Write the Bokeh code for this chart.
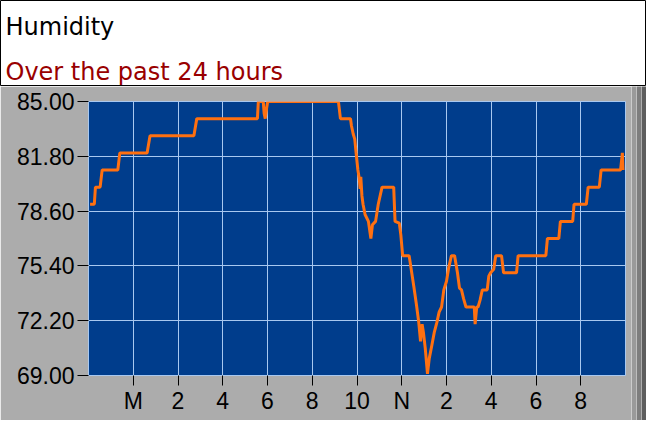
from bokeh.plotting import figure
from bokeh.layouts import column, row
from bokeh.models import Range1d, FixedTicker, PrintfTickFormatter, ColumnDataSource
from bokeh.core.properties import value
from bokeh.embed import file_html
from bokeh.resources import INLINE

# ---- data (hours relative to midnight, humidity %) ----
hours = [-1.93, -1.74, -1.69, -1.48, -1.39, -0.69, -0.60, 0.62, 0.75, 2.71, 2.84,
         5.55, 5.59, 5.81, 5.85, 5.90, 5.96, 6.01, 9.17, 9.26, 9.71, 9.75, 9.83,
         9.90, 9.96, 10.04, 10.10, 10.14, 10.17, 10.22, 10.27, 10.36, 10.51, 10.62,
         10.69, 10.83, 10.95, 11.12, 11.64, 11.70, 11.89, 11.96, 12.04, 12.33, 12.54,
         12.66, 12.76, 12.84, 12.91, 12.97, 13.05, 13.15, 13.23, 13.35, 13.45, 13.57,
         13.67, 13.78, 13.88, 14.00, 14.10, 14.22, 14.36, 14.49, 14.58, 14.67, 14.76,
         14.87, 15.24, 15.28, 15.35, 15.41, 15.50, 15.60, 15.82, 15.89, 15.97, 16.11,
         16.20, 16.46, 16.55, 17.13, 17.20, 18.44, 18.51, 19.02, 19.09, 19.64, 19.70,
         20.25, 20.33, 20.83, 20.91, 21.78, 21.86, 21.89]
humidity = [79, 79, 80, 80, 81, 81, 82, 82, 83, 83, 84,
            84, 85, 85, 84.3, 84, 84.6, 85, 85, 84, 84, 83.6, 83.1,
            82.8, 82, 81, 80.5, 79.9, 80.6, 79.5, 79, 78.4, 78, 77,
            77.8, 78, 79, 80, 80, 78, 77.9, 77.2, 76, 76, 74.2,
            73.1, 72.1, 71, 72, 71.5, 70.6, 69.1, 70, 70.8, 71.5, 72.1,
            72.7, 73, 74, 74.5, 75.3, 76, 76, 75, 74.1, 74, 73.5,
            73, 73, 72, 73, 73, 73.4, 74, 74, 74.8, 75, 75.2,
            76, 76, 75, 75, 76, 76, 77, 77, 78, 78, 79,
            79, 80, 80, 81, 81, 82, 81]

x_ticks = [0, 2, 4, 6, 8, 10, 12, 14, 16, 18, 20]
x_labels = ["M", "2", "4", "6", "8", "10", "N", "2", "4", "6", "8"]
y_ticks = [69.0, 72.2, 75.4, 78.6, 81.8, 85.0]

title_text = "Humidity"
subtitle_text = "Over the past 24 hours"

PANEL = "#acacac"
PLOT_BG = "#003d8c"
GRID = "#a8c8f0"
LINE = "#ff7010"

W = 646
HDR_H = 86
LEFT, FW, RIGHT = 88, 537, 6
TOP, FH, BOTTOM = 15, 274, 45
BEVEL_R = [(5, "#9a9a9a"), (5, "#7e7e7e"), (5, "#5e5e5e")]
BEVEL_B = 6


def no_align(fig):
    if "frame_align" in fig.properties():
        fig.frame_align = False


def plain(fig, color):
    fig.grid.visible = False
    fig.background_fill_color = color
    fig.border_fill_color = color
    fig.outline_line_color = None
    no_align(fig)


# ---- header ----
hdr = figure(width=W, height=HDR_H, x_range=Range1d(0, W), y_range=Range1d(HDR_H, 0),
             toolbar_location=None, output_backend="svg", min_border=0,
             x_axis_location=None, y_axis_location=None)
plain(hdr, "white")
hdr.outline_line_color = "black"
hdr_src = ColumnDataSource(dict(x=[5, 5], y=[26.5, 71.5], text=[title_text, subtitle_text],
                                color=["#000000", "#990000"]))
hdr.text(x="x", y="y", text="text", source=hdr_src, text_color="color",
         text_font=value("DejaVu Sans"), text_font_size="24px",
         text_baseline="alphabetic", text_align="left")

# ---- main chart ----
p = figure(frame_width=FW, frame_height=FH, x_range=Range1d(-2, 22), y_range=Range1d(69, 85),
           toolbar_location=None, output_backend="svg",
           min_border_left=LEFT, min_border_right=RIGHT, min_border_top=TOP, min_border_bottom=BOTTOM)
no_align(p)
p.background_fill_color = PLOT_BG
p.border_fill_color = PANEL
p.outline_line_color = GRID
p.outline_line_width = 1

p.line(hours, humidity, line_color=LINE, line_width=3)

p.xaxis.ticker = FixedTicker(ticks=x_ticks)
p.xaxis.major_label_overrides = {t: l for t, l in zip(x_ticks, x_labels)}
p.yaxis.ticker = FixedTicker(ticks=y_ticks)
p.yaxis.formatter = PrintfTickFormatter(format="%.2f")

for ax in (p.xaxis[0], p.yaxis[0]):
    ax.axis_line_color = None
    ax.major_tick_line_color = "black"
    ax.major_tick_line_width = 1
    ax.major_tick_in = 0
    ax.minor_tick_line_color = None
    ax.major_label_text_font = "Liberation Sans"
    ax.major_label_text_font_size = "23px"
    ax.major_label_text_color = "black"
p.xaxis.major_tick_out = 10
p.yaxis.major_tick_out = 11
p.xaxis.major_label_standoff = 2
p.yaxis.major_label_standoff = 3

p.xgrid.grid_line_color = GRID
p.ygrid.grid_line_color = GRID
p.xgrid.grid_line_width = 1
p.ygrid.grid_line_width = 1

# ---- bevel strips of the grey panel ----
main_h = TOP + FH + BOTTOM
strips = []
for w, c in BEVEL_R:
    s = figure(frame_width=w, frame_height=main_h, toolbar_location=None,
               output_backend="svg", min_border=0, x_axis_location=None, y_axis_location=None)
    plain(s, c)
    strips.append(s)
bstrip = figure(frame_width=W, frame_height=BEVEL_B, toolbar_location=None,
                output_backend="svg", min_border=0, x_axis_location=None, y_axis_location=None)
plain(bstrip, "#6c6c6c")

layout = column(hdr, row(p, *strips, spacing=0), bstrip, spacing=0)
open("out.html", "w").write(file_html(layout, INLINE))
